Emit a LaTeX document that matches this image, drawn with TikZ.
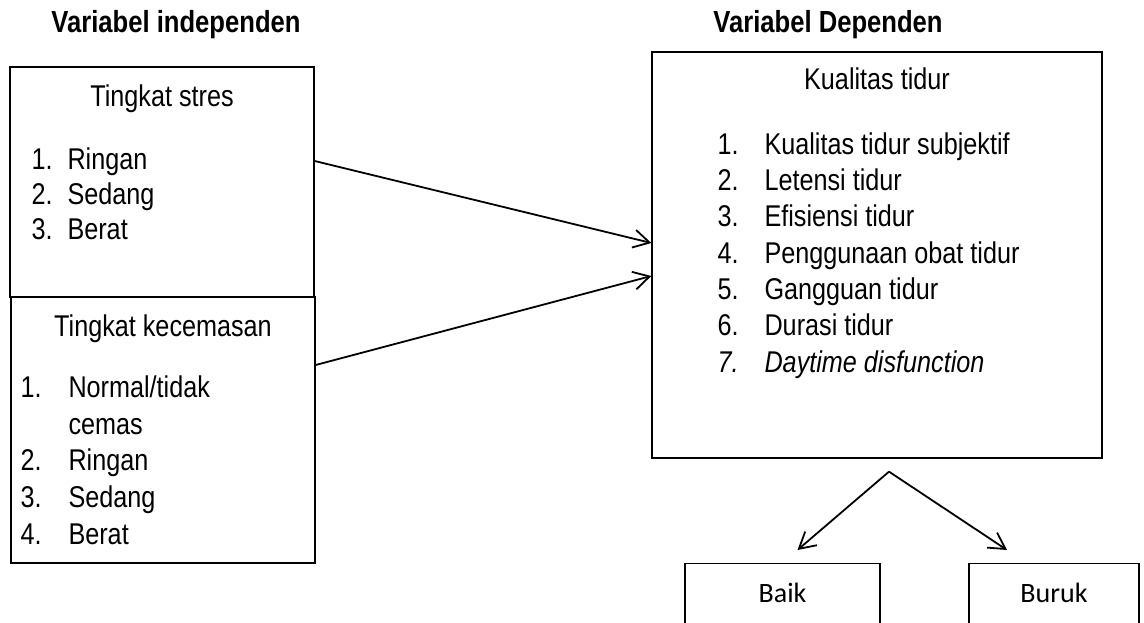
\documentclass[tikz,border=0pt]{standalone}
\usepackage{fontspec}
\setmainfont{Liberation Sans}[FakeStretch=0.84]
\newfontfamily\calibri{Carlito}
\usepackage{tikz}
\usetikzlibrary{shapes,arrows.meta}
\usetikzlibrary{positioning}

\begin{document}
\begin{tikzpicture}[x=1pt, y=-1pt,
    node distance = 0mm,
every node/.style = {inner sep=0pt, font=\fontsize{30}{36}\selectfont},
box/.style  = {draw, line width=1.3pt},
head/.style = {anchor=base, font=\fontsize{30.5}{36}\selectfont\bfseries},
conn/.style = {line width=1.8pt,
               -{Straight Barb[length=16pt,width=18pt,line width=1.8pt]}}]
\useasboundingbox (0,0) rectangle (1144,623);

\node[head]  (indep) at (176,33)  {Variabel independen};
\node[head]  (dep)   at (828,33)  {Variabel Dependen};

\node[box, minimum width=304pt, minimum height=230pt] (stres) at (162,182) {};
\node[box, minimum width=304pt, minimum height=266pt] (cemas) at (163,430) {};
\node[box, minimum width=450pt, minimum height=406pt] (tidur) at (877,255) {};

\node[anchor=base] (stresT) at ([yshift=-40pt]stres.north) {Tingkat stres};
\node[anchor=base west, font=\fontsize{30}{35}\selectfont]
      (stresL) at ([xshift=22pt,yshift=-103pt]stres.north west)
      {\begin{tabular}[t]{@{}p{36pt}@{}l@{}}
       1. & Ringan\\ 2. & Sedang\\ 3. & Berat
       \end{tabular}};

\node[anchor=base] (cemasT) at ([yshift=-40pt]cemas.north) {Tingkat kecemasan};
\node[anchor=base west, font=\fontsize{30}{36.7}\selectfont]
      (cemasL) at ([xshift=10pt,yshift=-101pt]cemas.north west)
      {\begin{tabular}[t]{@{}p{48pt}@{}l@{}}
       1. & Normal/tidak\\ & cemas\\ 2. & Ringan\\ 3. & Sedang\\ 4. & Berat
       \end{tabular}};

\node[anchor=base] (tidurT) at ([yshift=-38pt]tidur.north) {Kualitas tidur};
\node[anchor=base west, font=\fontsize{30}{36.3}\selectfont]
      (tidurL) at ([xshift=66pt,yshift=-103pt]tidur.north west)
      {\begin{tabular}[t]{@{}p{47pt}@{}l@{}}
       1. & Kualitas tidur subjektif\\
       2. & Letensi tidur\\
       3. & Efisiensi tidur\\
       4. & Penggunaan obat tidur\\
       5. & Gangguan tidur\\
       6. & Durasi tidur\\
       \itshape 7. & \itshape Daytime disfunction
       \end{tabular}};

\node[box, minimum width=195pt, minimum height=120pt, anchor=north]
      (baik)  at (782.5,563) {};
\node[box, minimum width=170pt, minimum height=120pt, anchor=north]
      (buruk) at (1054,563)  {};
\node[anchor=base, font=\fontsize{28}{34}\calibri] (baikT)  at ([yshift=-39pt]baik.north)  {Baik};
\node[anchor=base, font=\fontsize{28}{34}\calibri] (burukT) at ([yshift=-39pt]buruk.north) {Buruk};

\draw[conn] ([yshift=21pt]stres.east) -- ([yshift=12pt]tidur.west);
\draw[conn] ([yshift=65pt]cemas.east) -- ([yshift=-21pt]tidur.west);

\coordinate (split) at ([xshift=12pt,yshift=-13pt]tidur.south);
\draw[conn] (split) -- ([xshift=15pt,yshift=13pt]baik.north);
\draw[conn] (split) -- ([xshift=-47pt,yshift=13pt]buruk.north);
\end{tikzpicture}
\end{document}
